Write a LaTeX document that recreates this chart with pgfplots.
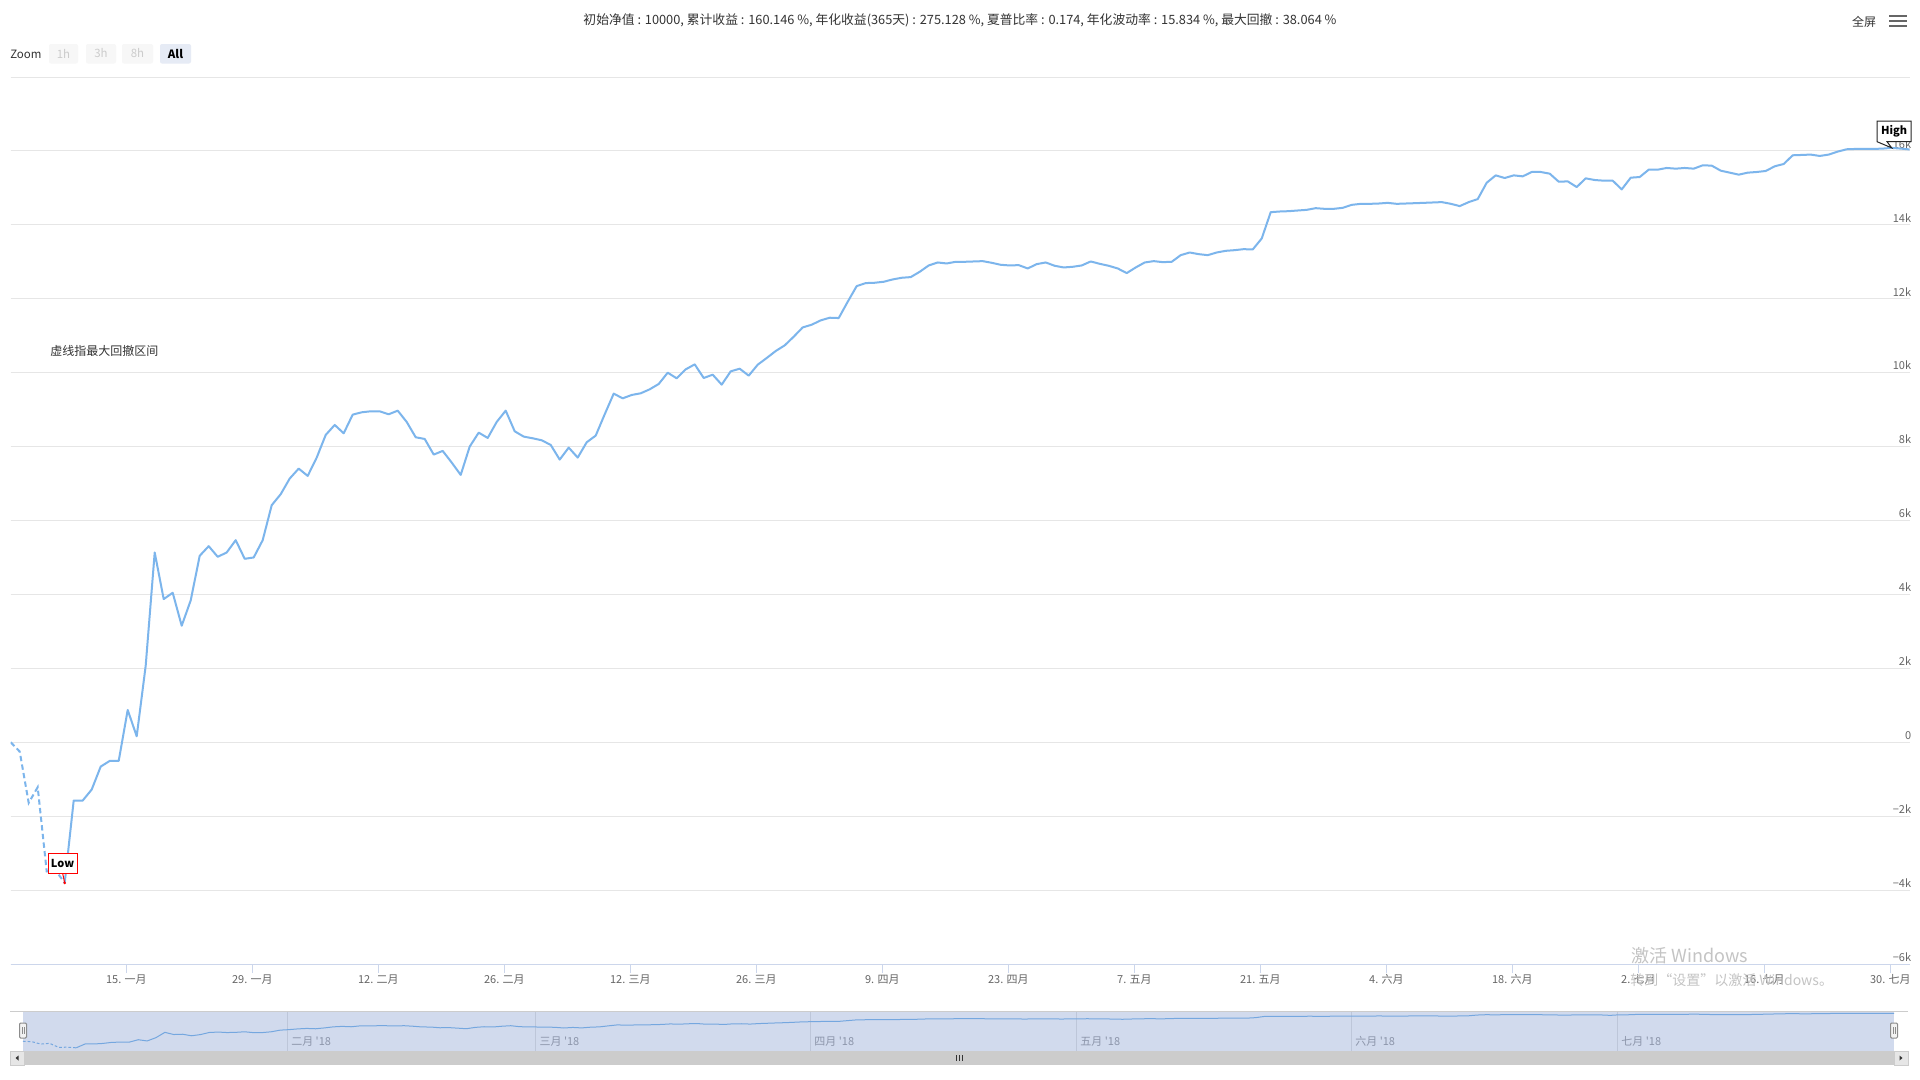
\documentclass[border=0pt]{standalone}
\usepackage{fontspec}
\setmainfont{Noto Sans CJK SC}
\usepackage{pgfplots}
\usepackage{pgfplotstable}
\pgfplotsset{compat=1.18}
\definecolor{serie}{HTML}{7CB5EC}
\definecolor{gridc}{HTML}{E6E6E6}
\definecolor{axisc}{HTML}{CCD6EB}
\definecolor{labc}{HTML}{666666}
\definecolor{txt}{HTML}{333333}
\definecolor{navbg}{HTML}{D1DAED}
\definecolor{navline}{HTML}{75A7DF}
\definecolor{navgrid}{HTML}{BDC6D9}
\definecolor{navlab}{HTML}{8C95AA}
\definecolor{btnbg}{HTML}{F7F7F7}
\definecolor{btnsel}{HTML}{E6EBF5}
\definecolor{btntxt}{HTML}{CCCCCC}
\definecolor{scrbg}{HTML}{F2F2F2}
\definecolor{scrthumb}{HTML}{CCCCCC}
\definecolor{scrbtn}{HTML}{E6E6E6}
\definecolor{wm}{HTML}{C4C4C4}
\newcommand{\fs}[1]{\fontsize{#1}{#1}\selectfont}

\pgfplotstableread{
x y
0 0
1 -252
2 -1640
3 -1216
4 -3495
5 -3470
6 -3806
7 -1577
8 -1577
9 -1279
10 -658
11 -505
12 -505
13 874
14 162
15 2072
16 5135
17 3874
18 4045
19 3153
20 3838
21 5045
22 5306
23 5018
24 5135
25 5468
26 4964
27 5000
28 5468
29 6414
30 6712
31 7135
32 7405
33 7207
34 7703
35 8315
36 8586
37 8360
38 8865
39 8928
40 8955
41 8955
42 8874
43 8973
44 8667
45 8252
46 8207
47 7784
48 7883
49 7568
50 7234
51 8000
52 8378
53 8234
54 8667
55 8973
56 8414
57 8270
58 8225
59 8171
60 8045
61 7649
62 7973
63 7703
64 8117
65 8297
66 8874
67 9433
68 9306
69 9397
70 9442
71 9550
72 9694
73 10000
74 9847
75 10090
76 10225
77 9856
78 9946
79 9676
80 10036
81 10108
82 9919
83 10216
84 10397
85 10586
86 10739
87 10973
88 11225
89 11298
90 11415
91 11487
92 11478
93 11919
94 12343
95 12424
96 12433
97 12460
98 12523
99 12568
100 12586
101 12730
102 12901
103 12982
104 12955
105 13000
106 13000
107 13009
108 13018
109 12973
110 12919
111 12901
112 12910
113 12820
114 12937
115 12982
116 12892
117 12847
118 12865
119 12901
120 13009
121 12946
122 12892
123 12820
124 12694
125 12847
126 12982
127 13018
128 12991
129 13000
130 13180
131 13252
132 13207
133 13180
134 13252
135 13297
136 13315
137 13342
138 13333
139 13631
140 14343
141 14361
142 14370
143 14388
144 14406
145 14451
146 14433
147 14433
148 14460
149 14541
150 14568
151 14568
152 14577
153 14595
154 14568
155 14577
156 14586
157 14595
158 14605
159 14615
160 14570
161 14507
162 14615
163 14697
164 15140
165 15339
166 15267
167 15339
168 15312
169 15430
170 15430
171 15385
172 15167
173 15176
174 15023
175 15258
176 15213
177 15195
178 15195
179 14959
180 15276
181 15294
182 15493
183 15493
184 15539
185 15520
186 15539
187 15520
188 15611
189 15602
190 15466
191 15412
192 15358
193 15412
194 15430
195 15457
196 15584
197 15647
198 15882
199 15891
200 15901
201 15864
202 15901
203 15982
204 16045
205 16054
206 16054
207 16054
208 16063
209 16082
210 16063
211 16040
}\equity

\begin{document}
\begin{tikzpicture}[x=0.75pt,y=-0.75pt]
\useasboundingbox (0,0) rectangle (1920,1079);
\fill[white] (0,0) rectangle (1920,1079);

% title
\node[font=\fs{9.6}, text=txt, inner sep=0pt] at (960,20.5) {初始净值 : 10000, 累计收益 : 160.146 \%, 年化收益(365天) : 275.128 \%, 夏普比率 : 0.174, 年化波动率 : 15.834 \%, 最大回撤 : 38.064 \%};

% zoom buttons
\node[font=\fs{8.6}, text=txt, anchor=west, inner sep=0pt] at (10,54) {Zoom};
\foreach \xa/\xb/\lab in {49/78/1h, 86/116/3h, 122/153/8h}{
  \fill[btnbg, rounded corners=1.5pt] (\xa,44) rectangle (\xb,63.5);
  \node[font=\fs{8.6}, text=btntxt, inner sep=0pt] at ({(\xa+\xb)/2},53.5) {\lab};
}
\fill[btnsel, rounded corners=1.5pt] (160,44) rectangle (191,63.5);
\node[font=\bfseries\fs{8.6}, text=black, inner sep=0pt] at (175.5,53.5) {All};

% fullscreen + menu
\node[font=\fs{9}, text=txt, inner sep=0pt] at (1864,22) {全屏};
\foreach \yy in {15.5,20.5,25.5}{\draw[labc, line width=1.5pt] (1889,\yy) -- (1907,\yy);}

% annotation
\node[font=\fs{9}, text=txt, anchor=west, inner sep=0pt] at (50,351) {虚线指最大回撤区间};

% main axis
\begin{axis}[
  at={(8.025pt,-723pt)}, anchor=south west,
  scale only axis, width=1424.25pt, height=665.25pt,
  xmin=0, xmax=211, ymin=-6000, ymax=18000,
  scaled ticks=false,
  axis line style={draw=none},
  clip mode=individual,
  ytick={-6000,-4000,-2000,0,2000,4000,6000,8000,10000,12000,14000,16000,18000},
  yticklabels={−6k,−4k,−2k,0,2k,4k,6k,8k,10k,12k,14k,16k,{}},
  ymajorgrids, grid style={draw=gridc, line width=0.75pt},
  ytick pos=right, yticklabel pos=right,
  y tick style={draw=none},
  yticklabel style={anchor=south east, inner sep=0pt, xshift=-5.5pt, yshift=1.8pt, font=\fs{8.25}, text=labc},
  xtick={12.85,26.85,40.85,54.85,68.85,82.85,96.85,110.85,124.85,138.85,152.85,166.85,180.85,194.85,208.85},
  xticklabels={15. 一月,29. 一月,12. 二月,26. 二月,12. 三月,26. 三月,9. 四月,23. 四月,7. 五月,21. 五月,4. 六月,18. 六月,2. 七月,16. 七月,30. 七月},
  xtick pos=bottom, tick align=outside,
  x tick style={draw=axisc, line width=0.75pt},
  major tick length=6.75pt,
  xticklabel style={font=\fs{8.25}, text=labc, anchor=north, inner sep=0pt, yshift=-1pt},
]
\addplot[serie, line width=1.5pt, no markers, dash pattern=on 4pt off 2.5pt, restrict x to domain=0:6] table[x=x,y=y]{\equity};
\addplot[serie, line width=1.5pt, no markers, line join=round, restrict x to domain=6:211] table[x=x,y=y]{\equity};
\draw[axisc, line width=0.75pt] (rel axis cs:0,0) -- (rel axis cs:1,0);
% Low flag
\draw[red, line width=0.75pt] (axis cs:6,-3806) -- ++(-1.5pt,7pt);
\node[draw=red, fill=white, line width=0.75pt, minimum width=21.75pt, minimum height=15pt, inner sep=0pt, anchor=south, font=\bfseries\fs{8.25}] at ([xshift=-1.6pt,yshift=7pt]axis cs:6,-3806) {Low};
\fill[red] (axis cs:6,-3806) circle (1.1pt);
% High flag
\filldraw[draw=black!85, fill=white, line width=0.75pt] (axis cs:209,16082) -- ++(-11pt,4.65pt) -- ++(0pt,15.5pt) -- ++(25.5pt,0pt) -- ++(0pt,-15.5pt) -- ++(-18pt,0pt) -- cycle;
\node[font=\bfseries\fs{8.25}, inner sep=0pt] at ([xshift=1.75pt,yshift=12.4pt]axis cs:209,16082) {High};
\end{axis}

% navigator background
\fill[navbg] (23,1011) rectangle (1894,1051);
\begin{axis}[
  at={(17.25pt,-788.25pt)}, anchor=south west,
  scale only axis, width=1403.25pt, height=30pt,
  xmin=0, xmax=211, ymin=-5656, ymax=17470,
  scaled ticks=false,
  axis line style={draw=none}, ytick=\empty,
  xtick={29.85,57.85,88.85,118.85,149.85,179.85},
  xticklabels={二月 \textquotesingle 18,三月 \textquotesingle 18,四月 \textquotesingle 18,五月 \textquotesingle 18,六月 \textquotesingle 18,七月 \textquotesingle 18},
  xmajorgrids, grid style={draw=navgrid, line width=0.75pt},
  x tick style={draw=none},
  xticklabel style={anchor=base west, inner sep=0pt, xshift=2.5pt, yshift=4pt, font=\fs{8.25}, text=navlab},
  clip=false
]
\addplot[navline, line width=0.75pt, no markers, dash pattern=on 2pt off 1.5pt, restrict x to domain=0:6] table[x=x,y=y]{\equity};
\addplot[navline, line width=0.75pt, no markers, restrict x to domain=6:211] table[x=x,y=y]{\equity};
\end{axis}
\draw[scrthumb, line width=0.75pt] (10,1011) -- (1908,1011);
% handles
\foreach \hx in {23,1894}{
  \filldraw[fill=scrbg, draw=black!45, line width=0.75pt, rounded corners=0.8pt] (\hx-3.5,1023) rectangle (\hx+3.5,1038);
  \draw[black!45, line width=0.6pt] (\hx-1,1027) -- (\hx-1,1034) (\hx+1,1027) -- (\hx+1,1034);
}
% scrollbar
\fill[scrbg] (10,1051) rectangle (1908,1065);
\fill[scrthumb] (24,1051) rectangle (1894,1065);
\filldraw[fill=scrbtn, draw=scrthumb, line width=0.6pt] (10,1051) rectangle (24,1065);
\filldraw[fill=scrbtn, draw=scrthumb, line width=0.6pt] (1894,1051) rectangle (1908,1065);
\fill[txt] (15.5,1058) -- (18.5,1055.5) -- (18.5,1060.5) -- cycle;
\fill[txt] (1902.5,1058) -- (1899.5,1055.5) -- (1899.5,1060.5) -- cycle;
\draw[txt, line width=0.6pt] (956,1055) -- (956,1061) (959,1055) -- (959,1061) (962,1055) -- (962,1061);

% windows watermark
\node[font=\fs{13.5}, text=wm, anchor=west, inner sep=0pt] at (1631,956) {激活 Windows};
\node[font=\fs{10.5}, text=wm, anchor=west, inner sep=0pt] at (1630,980) {转到“设置”以激活 Windows。};
\end{tikzpicture}
\end{document}
